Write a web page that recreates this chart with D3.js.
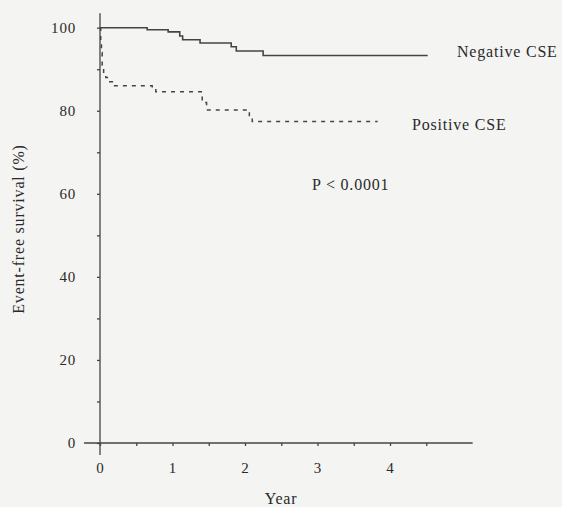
<!DOCTYPE html>
<html>
<head>
    <meta charset="utf-8">
    <title>Event-free survival</title>
    <script src="https://d3js.org/d3.v7.min.js"></script>
    <style>
        html, body {
            margin: 0;
            background: #f4f4f2;
        }
        svg {
            display: block;
        }
        svg text {
            font-family: "Liberation Serif", "DejaVu Serif", serif;
            fill: #2a2a2a;
            letter-spacing: 0.8px;
        }
        .axis text {
            font-size: 15px;
        }
        .axis line {
            stroke: #444;
            stroke-width: 1.3;
        }
        .label {
            font-size: 16px;
        }
    </style>
</head>
<body>
    <svg id="svg"></svg>
    <script>
        // Kaplan-Meier steps (years, % event-free)
        const negTime = [0, 0.65, 0.94, 1.10, 1.14, 1.38, 1.81, 1.88, 2.25, 4.52];
        const negSurv = [100, 99.5, 99.0, 98.0, 97.1, 96.3, 95.4, 94.4, 93.3, 93.3];
        const posTime = [0, 0.01, 0.02, 0.03, 0.05, 0.08, 0.12, 0.17, 0.72, 0.77, 1.41, 1.47, 2.06, 2.10, 3.83];
        const posSurv = [100, 97, 94, 91, 89, 88, 87, 86.0, 85.3, 84.6, 82.0, 80.2, 78.5, 77.4, 77.4];

        const yTicks = [0, 10, 20, 30, 40, 50, 60, 70, 80, 90, 100];
        const xTicks = [0, 0.5, 1, 1.5, 2, 2.5, 3, 3.5, 4, 4.5];
        const seriesLabels = ["Negative CSE", "Positive CSE"];
        const pLabel = "P < 0.0001";

        const width = 562, height = 507;

        const svg = d3.select("#svg")
            .attr("width", width)
            .attr("height", height);

        const x = d3.scaleLinear().domain([0, 5]).range([100, 462.5]);
        const y = d3.scaleLinear().domain([0, 100]).range([443, 27.7]);

        const ink = "#444";

        // y axis
        const yAxis = d3.axisLeft(y)
            .tickValues(yTicks)
            .tickSize(3)
            .tickPadding(21)
            .tickFormat(d => d % 20 === 0 ? d : "");
        svg.append("g")
            .attr("class", "axis")
            .attr("transform", `translate(${x(0)},0)`)
            .call(yAxis)
            .call(g => g.select(".domain").remove())
            .call(g => g.attr("font-family", null).attr("font-size", null));

        // x axis
        const xAxis = d3.axisBottom(x)
            .tickValues(xTicks)
            .tickSize(3)
            .tickPadding(16)
            .tickFormat(d => Number.isInteger(d) ? d : "");
        svg.append("g")
            .attr("class", "axis")
            .attr("transform", `translate(0,${y(0)})`)
            .call(xAxis)
            .call(g => g.select(".domain").remove())
            .call(g => g.attr("font-family", null).attr("font-size", null));

        // axis lines, overshooting past the origin like the original
        svg.append("line")
            .attr("x1", x(0)).attr("x2", x(0))
            .attr("y1", y(103.5)).attr("y2", y(-2.9))
            .attr("stroke", ink).attr("stroke-width", 1.3);
        svg.append("line")
            .attr("x1", x(-0.22)).attr("x2", x(5.14))
            .attr("y1", y(0)).attr("y2", y(0))
            .attr("stroke", ink).attr("stroke-width", 1.3);

        const line = d3.line()
            .curve(d3.curveStepAfter)
            .x(d => x(d[0]))
            .y(d => y(d[1]));

        svg.append("path")
            .datum(d3.zip(negTime, negSurv))
            .attr("fill", "none")
            .attr("stroke", ink)
            .attr("stroke-width", 1.6)
            .attr("d", line);

        svg.append("path")
            .datum(d3.zip(posTime, posSurv))
            .attr("fill", "none")
            .attr("stroke", ink)
            .attr("stroke-width", 1.5)
            .attr("stroke-dasharray", "4,5")
            .attr("d", line);

        // labels
        svg.append("text")
            .attr("class", "label")
            .attr("x", 457).attr("y", 57)
            .text(seriesLabels[0]);
        svg.append("text")
            .attr("class", "label")
            .attr("x", 412).attr("y", 130)
            .text(seriesLabels[1]);
        svg.append("text")
            .attr("class", "label")
            .attr("x", 312).attr("y", 190)
            .text(pLabel);

        svg.append("text")
            .attr("class", "label")
            .attr("x", 281).attr("y", 504)
            .attr("text-anchor", "middle")
            .text("Year");

        svg.append("text")
            .attr("class", "label")
            .attr("transform", `translate(24,229) rotate(-90)`)
            .attr("text-anchor", "middle")
            .text("Event-free survival (%)");
    </script>
</body>
</html>
